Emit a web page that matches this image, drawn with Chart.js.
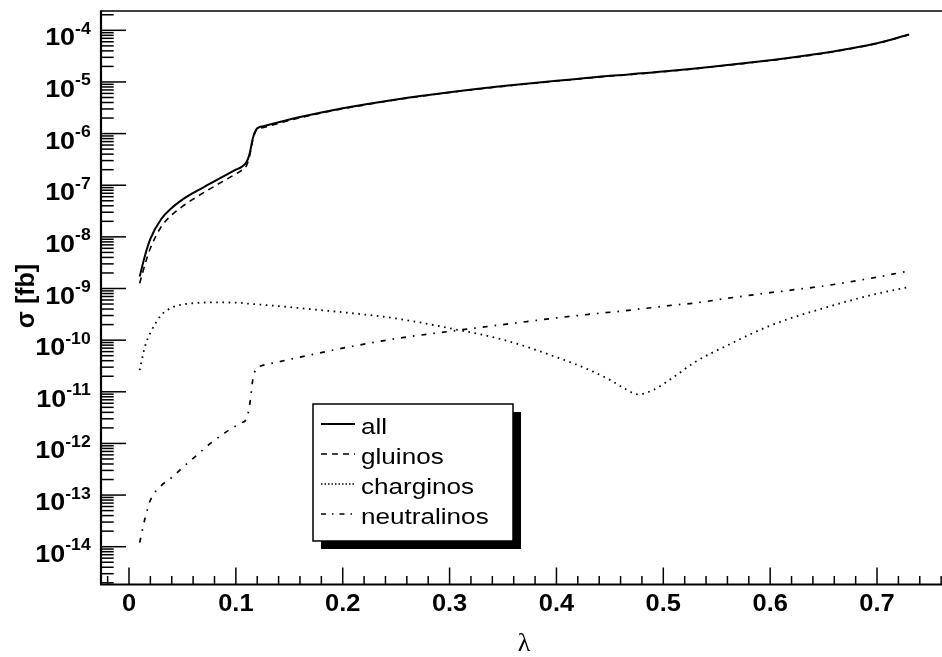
<!DOCTYPE html>
<html><head><meta charset="utf-8">
<script src="https://cdn.jsdelivr.net/npm/chart.js@4/dist/chart.umd.min.js"></script>
<style>html,body{margin:0;padding:0;background:#fff;overflow:hidden}</style>
</head><body>
<canvas id="c" width="942" height="657"></canvas>
<script>
const lambda = [0.01, 0.015, 0.02, 0.03, 0.04, 0.05, 0.06, 0.075, 0.09, 0.1, 0.105, 0.11, 0.113, 0.116, 0.119, 0.122, 0.125, 0.14, 0.16, 0.18, 0.2, 0.25, 0.3, 0.35, 0.4, 0.43, 0.45, 0.465, 0.476, 0.49, 0.51, 0.53, 0.56, 0.6, 0.65, 0.7, 0.73];
const sigmaAll = [1.70e-9, 4.37e-9, 9.12e-9, 2.19e-8, 3.63e-8, 5.25e-8, 7.08e-8, 1.05e-7, 1.55e-7, 2.00e-7, 2.24e-7, 2.82e-7, 4.17e-7, 8.32e-7, 1.20e-6, 1.33e-6, 1.38e-6, 1.66e-6, 2.09e-6, 2.57e-6, 3.09e-6, 4.57e-6, 6.31e-6, 8.32e-6, 1.05e-5, 1.20e-5, 1.32e-5, 1.38e-5, 1.45e-5, 1.53e-5, 1.66e-5, 1.82e-5, 2.14e-5, 2.63e-5, 3.63e-5, 5.62e-5, 8.32e-5];
const sigmaGluinos = [1.26e-9, 2.95e-9, 6.03e-9, 1.55e-8, 2.66e-8, 3.89e-8, 5.37e-8, 8.32e-8, 1.26e-7, 1.66e-7, 1.91e-7, 2.40e-7, 3.80e-7, 7.76e-7, 1.15e-6, 1.27e-6, 1.30e-6, 1.58e-6, 2.02e-6, 2.51e-6, 3.02e-6, 4.52e-6, 6.24e-6, 8.22e-6, 1.04e-5, 1.19e-5, 1.30e-5, 1.36e-5, 1.43e-5, 1.51e-5, 1.64e-5, 1.80e-5, 2.11e-5, 2.60e-5, 3.59e-5, 5.56e-5, 8.22e-5];
const sigmaCharginos = [2.63e-11, 7.59e-11, 1.38e-10, 3.02e-10, 4.27e-10, 4.90e-10, 5.19e-10, 5.37e-10, 5.37e-10, 5.31e-10, 5.25e-10, 5.13e-10, 5.07e-10, 5.01e-10, 4.95e-10, 4.90e-10, 4.84e-10, 4.57e-10, 4.17e-10, 3.80e-10, 3.47e-10, 2.63e-10, 1.70e-10, 1.02e-10, 4.68e-11, 2.69e-11, 1.70e-11, 1.12e-11, 8.91e-12, 1.07e-11, 1.95e-11, 3.80e-11, 7.94e-11, 1.91e-10, 4.17e-10, 7.94e-10, 1.07e-9];
const sigmaNeutralinos = [1.20e-14, 3.55e-14, 7.94e-14, 1.51e-13, 2.19e-13, 3.39e-13, 5.13e-13, 9.55e-13, 1.62e-12, 2.19e-12, 2.51e-12, 3.02e-12, 5.75e-12, 1.78e-11, 2.82e-11, 3.09e-11, 3.24e-11, 3.80e-11, 4.68e-11, 5.75e-11, 7.00e-11, 1.07e-10, 1.48e-10, 2.00e-10, 2.69e-10, 3.16e-10, 3.47e-10, 3.72e-10, 3.98e-10, 4.27e-10, 4.79e-10, 5.25e-10, 6.46e-10, 8.32e-10, 1.12e-9, 1.66e-9, 2.19e-9];
const seriesNames = ['all', 'gluinos', 'charginos', 'neutralinos'];
const xTickValues = [0, 0.1, 0.2, 0.3, 0.4, 0.5, 0.6, 0.7];
const xTickLabels = ['0', '0.1', '0.2', '0.3', '0.4', '0.5', '0.6', '0.7'];
const yTickExponents = [-14, -13, -12, -11, -10, -9, -8, -7, -6, -5, -4];
const xTitle = 'λ';
const yTitle = 'σ [fb]';

const dashes = [[], [6, 5], [1.6, 4.6], [5, 7, 1.6, 7]];
const legendDashes = [[], [6, 5], [1.5, 2], [5, 6, 1.5, 6]];
const widths = [2, 1.6, 1.8, 1.7];
const allSeries = [sigmaAll, sigmaGluinos, sigmaCharginos, sigmaNeutralinos];

const datasets = allSeries.map((s, k) => ({
  label: seriesNames[k],
  data: lambda.map((x, i) => ({x: x, y: s[i]})),
  borderColor: '#000',
  borderWidth: widths[k],
  borderDash: dashes[k],
  pointRadius: 0,
  fill: false,
  cubicInterpolationMode: 'monotone',
  order: k
}));

function sText(ctx, str, x, y, align, sx) {
  ctx.save();
  ctx.translate(x, y);
  ctx.scale(sx, 1);
  ctx.textAlign = align;
  ctx.fillText(str, 0, 0);
  ctx.restore();
}

const rootAxes = {
  id: 'rootAxes',
  afterDraw(chart) {
    const ctx = chart.ctx, ca = chart.chartArea;
    const xs = chart.scales.x, ys = chart.scales.y;
    ctx.save();
    ctx.strokeStyle = '#000';
    ctx.fillStyle = '#000';
    ctx.setLineDash([]);
    ctx.lineWidth = 1.6;
    ctx.beginPath(); ctx.moveTo(ca.left, ca.top); ctx.lineTo(ca.right, ca.top); ctx.stroke();
    ctx.lineWidth = 2.2;
    ctx.beginPath(); ctx.moveTo(ca.left, ca.top - 0.8); ctx.lineTo(ca.left, ca.bottom); ctx.lineTo(ca.right, ca.bottom); ctx.stroke();
    ctx.lineWidth = 1.5;
    for (let i = -1; i <= 38; i++) {
      const v = i * 0.02;
      if (v < xs.min || v > xs.max) continue;
      const px = xs.getPixelForValue(v);
      const len = (i % 5 === 0) ? 17 : 8.5;
      ctx.beginPath(); ctx.moveTo(px, ca.bottom); ctx.lineTo(px, ca.bottom - len); ctx.stroke();
    }
    for (let d = -15; d <= -4; d++) {
      for (let m = 1; m <= 9; m++) {
        const v = m * Math.pow(10, d);
        if (v < ys.min || v > ys.max) continue;
        const py = ys.getPixelForValue(v);
        const len = (m === 1) ? 25 : 12.7;
        ctx.beginPath(); ctx.moveTo(ca.left, py); ctx.lineTo(ca.left + len, py); ctx.stroke();
      }
    }
    ctx.font = 'bold 24px "Liberation Sans", Arial, sans-serif';
    ctx.textBaseline = 'alphabetic';
    xTickValues.forEach((v, i) => {
      sText(ctx, xTickLabels[i], xs.getPixelForValue(v), 611, 'center', 1.06);
    });
    const rightEdge = 90.7;
    yTickExponents.forEach(e => {
      const py = ys.getPixelForValue(Math.pow(10, e));
      const expStr = String(e);
      ctx.font = 'bold 16px "Liberation Sans", Arial, sans-serif';
      const ew = ctx.measureText(expStr).width * 1.1;
      sText(ctx, expStr, rightEdge - ew, py + 3.5, 'left', 1.1);
      ctx.font = 'bold 24px "Liberation Sans", Arial, sans-serif';
      sText(ctx, '10', rightEdge - ew, py + 15, 'right', 1.12);
    });
    ctx.font = 'bold 25px "Liberation Sans", Arial, sans-serif';
    ctx.save();
    ctx.translate(34, 296);
    ctx.rotate(-Math.PI / 2);
    ctx.textAlign = 'center';
    ctx.fillText(yTitle, 0, 0);
    ctx.restore();
    ctx.font = '26px "Liberation Serif", serif';
    ctx.textAlign = 'center';
    ctx.fillText(xTitle, 524, 651);
    const bx = 313, by = 404, bw = 200, bh = 137;
    ctx.fillStyle = '#000';
    ctx.fillRect(bx + 8, by + 8, bw, bh);
    ctx.fillStyle = '#fff';
    ctx.fillRect(bx, by, bw, bh);
    ctx.lineWidth = 1.5;
    ctx.strokeStyle = '#000';
    ctx.strokeRect(bx, by, bw, bh);
    ctx.fillStyle = '#000';
    ctx.font = '22.5px "Liberation Sans", Arial, sans-serif';
    chart.data.datasets.forEach((ds, k) => {
      const base = 433.5 + 30 * k;
      const ly = base - 9.5;
      ctx.lineWidth = k === 0 ? 1.8 : 1.5;
      ctx.setLineDash(legendDashes[k]);
      ctx.beginPath(); ctx.moveTo(321, ly); ctx.lineTo(355, ly); ctx.stroke();
      ctx.setLineDash([]);
      sText(ctx, ds.label, 361, base, 'left', 1.16);
    });
    ctx.restore();
  }
};

new Chart(document.getElementById('c'), {
  type: 'line',
  data: {datasets: datasets},
  options: {
    responsive: false,
    animation: false,
    devicePixelRatio: 1,
    layout: {padding: {left: 101, top: 11, right: 0, bottom: 72.5}},
    plugins: {legend: {display: false}, tooltip: {enabled: false}},
    scales: {
      x: {type: 'linear', min: -0.0262, max: 0.7608, bounds: 'data', display: false},
      y: {type: 'logarithmic', min: 1.854e-15, max: 2.366e-4, bounds: 'data', display: false}
    }
  },
  plugins: [rootAxes]
});
</script>
</body></html>
